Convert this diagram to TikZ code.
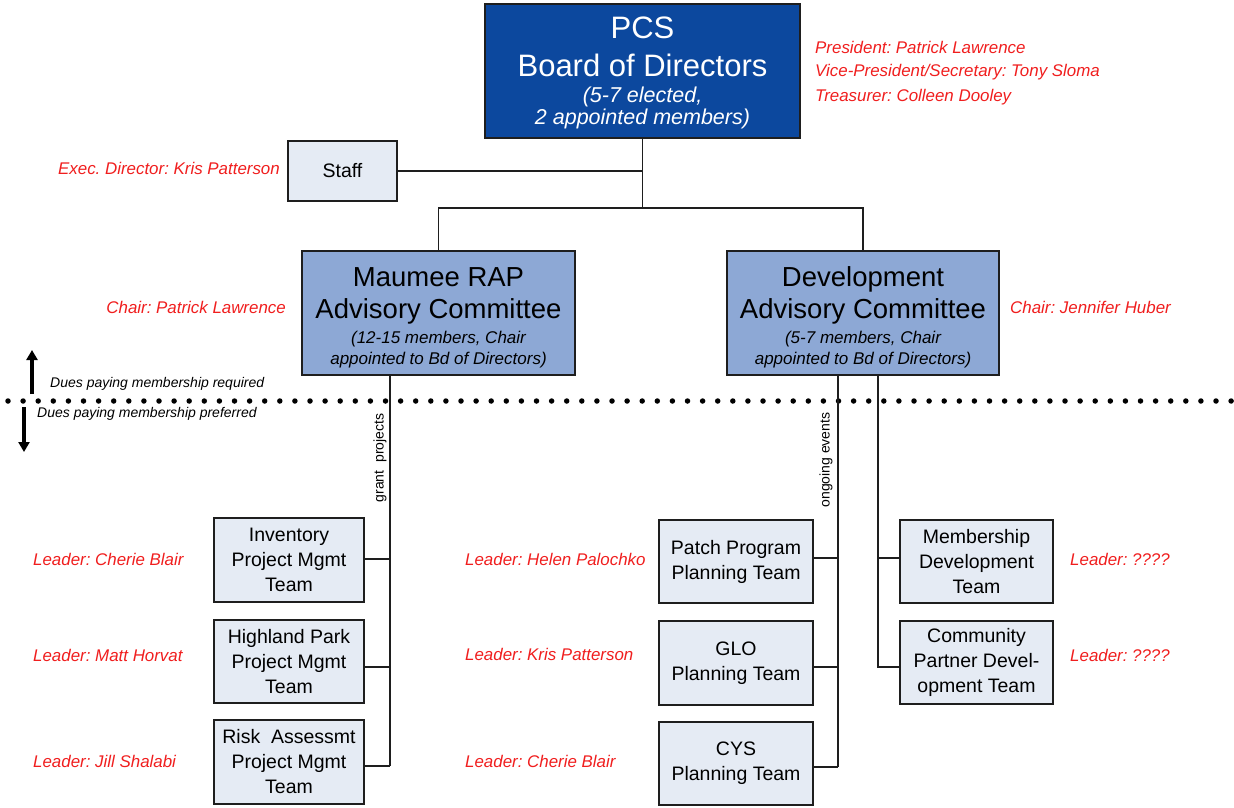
\documentclass[tikz,border=0pt]{standalone}
\usepackage{fontspec}
\setmainfont{Liberation Sans}
\usetikzlibrary{arrows.meta}
\frenchspacing
\definecolor{boardblue}{RGB}{12,72,158}
\definecolor{commblue}{RGB}{141,168,213}
\definecolor{teamfill}{RGB}{229,235,244}
\definecolor{redtext}{RGB}{240,30,30}
\definecolor{edge}{RGB}{30,30,30}
\newcommand{\fixstrut}[2]{\rule[-#2]{0pt}{\dimexpr#1+#2\relax}}
\tikzset{
  boardbox/.style={draw=edge, line width=1.6pt, fill=boardblue, text=white, align=center, inner sep=0pt,
    minimum width=315pt, minimum height=134pt, font=\fontsize{21.5}{1}\selectfont\itshape},
  commbox/.style={draw=edge, line width=1.4pt, fill=commblue, text=black, align=center, inner sep=0pt,
    minimum width=273pt, minimum height=124pt, font=\fontsize{17}{1}\selectfont\itshape},
  teambox/.style={draw=edge, line width=1.3pt, fill=teamfill, text=black, align=center, inner sep=0pt,
    font=\fontsize{19.5}{25}\selectfont, minimum height=84pt},
  redlbl/.style={text=redtext, inner sep=0pt, font=\fontsize{16.9}{21}\selectfont\itshape},
  duelbl/.style={text=black, inner sep=0pt, font=\fontsize{14}{17}\selectfont\itshape},
  rotlbl/.style={text=black, inner sep=0pt, rotate=90, font=\fontsize{14}{17}\selectfont},
  conn/.style={draw=edge, line width=1.4pt},
  bigarrow/.style={draw=black, line width=3.6pt, -{Triangle[length=10pt,width=11pt]}}
}
\begin{document}
\begin{tikzpicture}[x=1pt,y=-1pt]
\useasboundingbox (0,0) rectangle (1234,808);

% Board
\node[boardbox] (board) at (642.5,71) {\upshape\fontsize{31}{1}\selectfont\fixstrut{26pt}{9pt}PCS\\\upshape\fontsize{31}{1}\selectfont\fixstrut{28pt}{7pt}Board of Directors\\\fixstrut{18.7pt}{5pt}(5-7 elected,\\\fixstrut{16pt}{5.3pt}2 appointed members)};
\node[redlbl, anchor=west] (pres) at (815,47) {President: Patrick Lawrence};
\node[redlbl, anchor=west] (vp) at (815,72) {Vice-President/Secretary: Tony Sloma};
\node[redlbl, anchor=west] (treas) at (815,97) {Treasurer: Colleen Dooley};

% Staff
\node[teambox, minimum width=109pt, minimum height=60pt] (staff) at (342.5,171) {Staff};
\node[redlbl, anchor=east] (exec) at (280,168) {Exec. Director: Kris Patterson};

% Committees
\node[commbox] (maumee) at (438.5,313) {\upshape\fontsize{27.5}{1}\selectfont\fixstrut{29pt}{8pt}Maumee RAP\\\upshape\fontsize{27.5}{1}\selectfont\fixstrut{23pt}{6.5pt}Advisory Committee\\\fixstrut{17.5pt}{5pt}(12-15 members, Chair\\\fixstrut{15pt}{5pt}appointed to Bd of Directors)};
\node[commbox, minimum width=272pt] (dev) at (863,313) {\upshape\fontsize{27.5}{1}\selectfont\fixstrut{29pt}{8pt}Development\\\upshape\fontsize{27.5}{1}\selectfont\fixstrut{23pt}{6.5pt}Advisory Committee\\\fixstrut{17.5pt}{5pt}(5-7 members, Chair\\\fixstrut{15pt}{5pt}appointed to Bd of Directors)};
\node[redlbl, anchor=east] (chair1) at (286,307) {Chair: Patrick Lawrence};
\node[redlbl, anchor=west] (chair2) at (1010,307) {Chair: Jennifer Huber};

% Connectors top
\coordinate (hub) at (642.5,208);
\draw[conn] (board.south) -- (hub);
\draw[conn] (staff.east) -- (staff.east -| board.south);
\draw[conn] (hub) -| (maumee.north);
\draw[conn] (hub) -| (dev.north);

% Dotted separator
\coordinate (dotL) at (8,401);
\coordinate (dotR) at (1234,401);
\draw[line width=5.5pt, line cap=round, dash pattern=on 0pt off 15.1pt] (dotL) -- (dotR);

% Membership arrows
\coordinate (upA) at (32,394);
\coordinate (upB) at (32,350);
\coordinate (dnA) at (24,407);
\coordinate (dnB) at (24,452);
\draw[bigarrow] (upA) -- (upB);
\draw[bigarrow] (dnA) -- (dnB);
\node[duelbl, anchor=west] (req) at (50,384) {Dues paying membership required};
\node[duelbl, anchor=west] (pref) at (37,414) {Dues paying membership preferred};

% Left team boxes
\node[teambox, minimum width=150pt] (inv) at (289,560) {Inventory\\Project Mgmt\\Team};
\node[teambox, minimum width=150pt, minimum height=83pt] (high) at (289,661.5) {Highland Park\\Project Mgmt\\Team};
\node[teambox, minimum width=150pt] (risk) at (289,762) {Risk~~Assessmt\\Project Mgmt\\Team};
\coordinate (mtrunk) at (390,766);
\coordinate (mj1) at (390,559);
\coordinate (mj2) at (390,667);
\draw[conn] (maumee.south -| mtrunk) -- (mtrunk);
\draw[conn] (mj1 -| inv.east) -- (mj1);
\draw[conn] (mj2 -| high.east) -- (mj2);
\draw[conn] (mtrunk -| risk.east) -- (mtrunk);
\node[rotlbl] (grant) at (380,458) {grant~~projects};
\node[redlbl, anchor=west] (l1) at (33,559) {Leader: Cherie Blair};
\node[redlbl, anchor=west] (l2) at (33,655) {Leader: Matt Horvat};
\node[redlbl, anchor=west] (l3) at (33,761) {Leader: Jill Shalabi};

% Middle team boxes
\node[teambox, minimum width=154pt, minimum height=83pt] (patch) at (736,561.5) {Patch Program\\Planning Team};
\node[teambox, minimum width=154pt] (glo) at (736,663) {GLO\\Planning Team};
\node[teambox, minimum width=154pt, minimum height=83pt] (cys) at (736,763.5) {CYS\\Planning Team};
\coordinate (etrunk) at (838,767);
\coordinate (ej1) at (838,558);
\coordinate (ej2) at (838,667);
\draw[conn] (dev.south -| etrunk) -- (etrunk);
\draw[conn] (ej1 -| patch.east) -- (ej1);
\draw[conn] (ej2 -| glo.east) -- (ej2);
\draw[conn] (etrunk -| cys.east) -- (etrunk);
\node[rotlbl] (ongo) at (826,460) {ongoing events};
\node[redlbl, anchor=west] (l4) at (465,559) {Leader: Helen Palochko};
\node[redlbl, anchor=west] (l5) at (465,654) {Leader: Kris Patterson};
\node[redlbl, anchor=west] (l6) at (465,761) {Leader: Cherie Blair};

% Right team boxes
\node[teambox, minimum width=153pt, minimum height=83pt] (memb) at (976.5,561.5) {Membership\\Development\\Team};
\node[teambox, minimum width=153pt, minimum height=83pt] (comm) at (976.5,662.5) {Community\\Partner Devel-\\opment Team};
\coordinate (rtrunk) at (878,667);
\coordinate (rj1) at (878,558);
\draw[conn] (dev.south -| rtrunk) -- (rtrunk) -- (rtrunk -| comm.west);
\draw[conn] (rj1 -| memb.west) -- (rj1);
\node[redlbl, anchor=west] (l7) at (1070,559) {Leader: ????};
\node[redlbl, anchor=west] (l8) at (1070,655) {Leader: ????};
\end{tikzpicture}
\end{document}
